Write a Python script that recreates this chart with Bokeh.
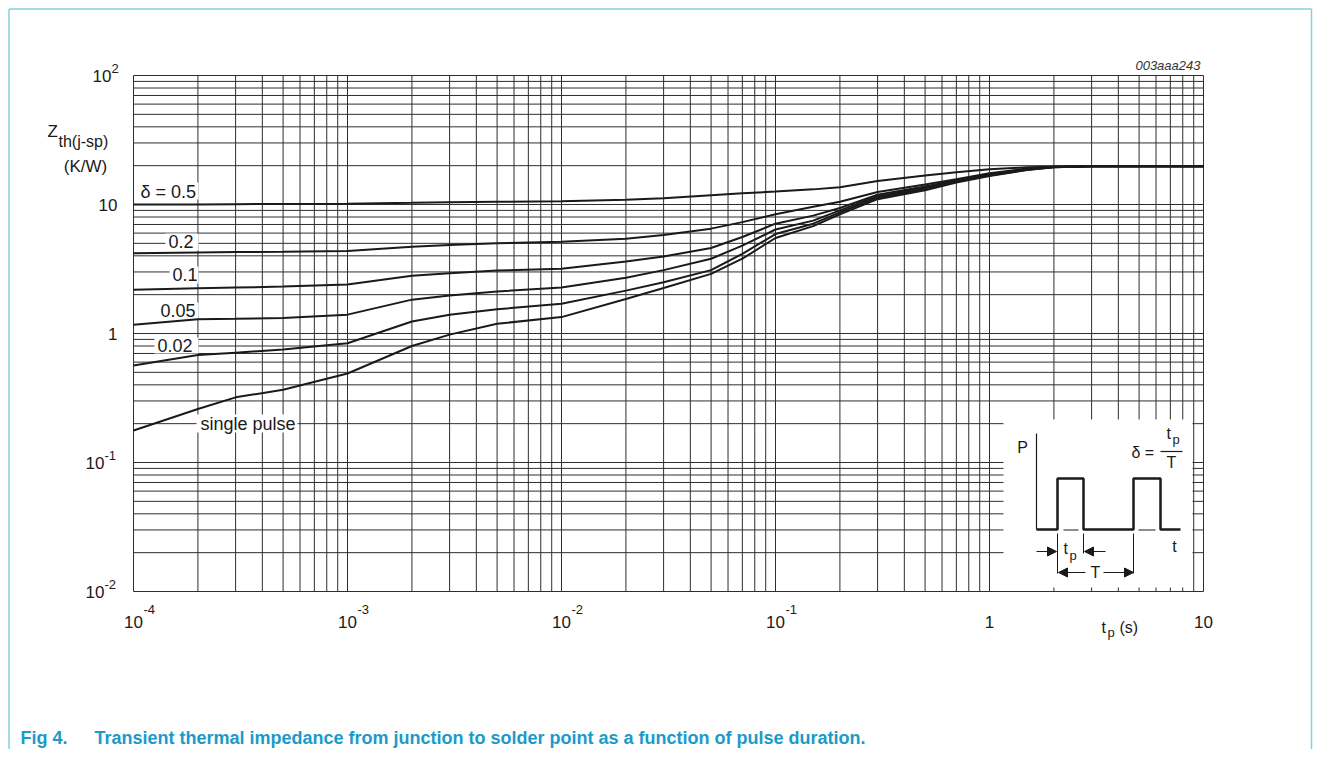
import math
from bokeh.plotting import figure
from bokeh.models import Label, Range1d, Arrow, NormalHead
from bokeh.embed import file_html
from bokeh.resources import INLINE

# ---------------- data ----------------
tp_s = [1e-4, 2e-4, 3e-4, 5e-4, 1e-3, 2e-3, 3e-3, 5e-3, 1e-2, 2e-2, 3e-2, 5e-2,
        0.07, 0.1, 0.15, 0.2, 0.3, 0.5, 0.7, 1.0, 1.5, 2.0, 3.0, 10.0]
zth_d050 = [10.0, 10.0, 10.05, 10.1, 10.15, 10.3, 10.4, 10.5, 10.6, 10.9, 11.2, 11.8,
            12.2, 12.6, 13.1, 13.6, 15.2, 16.8, 17.8, 18.8, 19.4, 19.6, 19.8, 19.8]
zth_d020 = [4.19, 4.25, 4.28, 4.31, 4.36, 4.70, 4.85, 5.0, 5.15, 5.42, 5.8, 6.5,
            7.3, 8.4, 9.6, 10.5, 12.5, 14.3, 15.7, 17.5, 19.0, 19.6, 19.8, 19.8]
zth_d010 = [2.18, 2.24, 2.27, 2.31, 2.40, 2.80, 2.93, 3.08, 3.17, 3.62, 3.95, 4.6,
            5.6, 7.1, 8.2, 9.4, 11.9, 13.8, 15.4, 17.2, 18.8, 19.5, 19.8, 19.8]
zth_d005 = [1.17, 1.29, 1.30, 1.32, 1.40, 1.83, 1.97, 2.12, 2.27, 2.7, 3.1, 3.8,
            4.8, 6.4, 7.5, 9.0, 11.6, 13.5, 15.2, 17.0, 18.7, 19.5, 19.8, 19.8]
zth_d002 = [0.565, 0.68, 0.71, 0.75, 0.84, 1.24, 1.40, 1.54, 1.70, 2.15, 2.5, 3.1,
            4.15, 5.9, 7.1, 8.7, 11.3, 13.2, 15.0, 16.8, 18.6, 19.4, 19.8, 19.8]
zth_single = [0.177, 0.26, 0.32, 0.366, 0.49, 0.80, 0.98, 1.19, 1.34, 1.85, 2.25, 2.9,
              3.8, 5.5, 6.8, 8.4, 11.0, 12.9, 14.8, 16.6, 18.5, 19.4, 19.8, 19.8]
series = [zth_d050, zth_d020, zth_d010, zth_d005, zth_d002, zth_single]
curve_labels = ["\u03b4 = 0.5", "0.2", "0.1", "0.05", "0.02", "single pulse"]

x_major = [1e-4, 1e-3, 1e-2, 1e-1, 1.0, 10.0]
x_tick_base = ["10", "10", "10", "10", "1", "10"]
x_tick_exp = ["-4", "-3", "-2", "-1", "", ""]
y_major = [1e-2, 1e-1, 1.0, 10.0, 100.0]
y_tick_base = ["10", "10", "1", "10", "10"]
y_tick_exp = ["-2", "-1", "", "", "2"]

x_minor = [m * 10.0 ** e for e in range(-4, 1) for m in range(2, 10)]
y_minor = [m * 10.0 ** e for e in range(-2, 2) for m in range(2, 10)]

XR = (1e-4, 10.0)
YR = (1e-2, 1e2)

# ---------------- layout geometry (page pixels of the data frame) ----------------
FX0, FX1 = 133.0, 1203.0
FY0, FY1 = 591.0, 75.0
LX0, LX1 = math.log10(XR[0]), math.log10(XR[1])
LY0, LY1 = math.log10(YR[0]), math.log10(YR[1])


def X(px):
    return 10 ** (LX0 + (px - FX0) / (FX1 - FX0) * (LX1 - LX0))


def Y(py):
    return 10 ** (LY0 + (FY0 - py) / (FY0 - FY1) * (LY1 - LY0))


def PX(v):
    return FX0 + (math.log10(v) - LX0) / (LX1 - LX0) * (FX1 - FX0)


def PY(v):
    return FY0 - (math.log10(v) - LY0) / (LY1 - LY0) * (FY0 - FY1)


W, H = 1313, 749
p = figure(width=W, height=H, x_axis_type="log", y_axis_type="log",
           x_range=Range1d(X(0), X(W)), y_range=Range1d(Y(H), Y(0)),
           x_axis_location=None, y_axis_location=None,
           toolbar_location=None, output_backend="svg", min_border=0)
p.grid.visible = False
p.outline_line_color = None
p.background_fill_color = "white"
p.border_fill_color = "white"

FONT = "Liberation Sans"
INK = "#1a1a1a"
GRID = "#2e2e2e"

# page border (light blue frame)
BORDER = "#86cfe2"
p.line([X(8.5), X(8.5)], [Y(H), Y(8.5)], line_color=BORDER, line_width=1.5)
p.line([X(8.5), X(W - 2)], [Y(8.5), Y(8.5)], line_color=BORDER, line_width=1.5)
p.line([X(W - 2), X(W - 2)], [Y(8.5), Y(H)], line_color=BORDER, line_width=1.5)

# grid (decades + minor 2..9), including the frame edges
vx = x_major + x_minor
p.segment(x0=vx, y0=[YR[0]] * len(vx), x1=vx, y1=[YR[1]] * len(vx),
          line_color=GRID, line_width=1)
hy = y_major + y_minor
p.segment(x0=[XR[0]] * len(hy), y0=hy, x1=[XR[1]] * len(hy), y1=hy,
          line_color=GRID, line_width=1)

# white masks behind the in-plot texts and the inset
masks = [(137, 198, 182, 199), (165, 198, 233, 250), (169, 198, 266, 283),
         (157, 198, 302, 318), (154, 198, 337, 353), (196, 297, 414, 432),
         (1003, 1192, 419, 587)]
p.quad(left=[X(m[0]) for m in masks], right=[X(m[1]) for m in masks],
       top=[Y(m[2]) for m in masks], bottom=[Y(m[3]) for m in masks],
       fill_color="white", line_color=None)

for ys in series:
    p.line(tp_s, ys, line_color=INK, line_width=2)


def lab(px, py, text, size="18px", align="left", baseline="middle",
        style="normal", color=INK, font=FONT):
    p.add_layout(Label(x=X(px), y=Y(py), text=text, text_font_size=size,
                       text_align=align, text_baseline=baseline,
                       text_font_style=style, text_color=color, text_font=font))


# curve labels
label_pos = [(140, 191), (168, 241), (172, 274), (160, 310), (157, 345), (200, 423)]
for (px, py), t in zip(label_pos, curve_labels):
    lab(px, py, t)

# x tick labels
for v, b, e in zip(x_major, x_tick_base, x_tick_exp):
    lab(PX(v), 621, b, size="17px", align="center")
    if e:
        lab(PX(v) + 10, 609, e, size="13px")

# y tick labels
for v, b, e in zip(y_major, y_tick_base, y_tick_exp):
    if e:
        rx = 111 if e == "2" else 104
        lab(rx, PY(v), b, size="17px", align="right")
        lab(rx, PY(v) - 7, e, size="13px")
    else:
        lab(117, PY(v), b, size="17px", align="right")

# axis titles
lab(47, 131, "Z", size="17px")
lab(58, 141, "th(j-sp)", size="16px")
lab(85, 166, "(K/W)", size="17px", align="center")
lab(1101, 627, "t", size="16px", baseline="alphabetic")
lab(1107, 632, "p", size="13px", baseline="alphabetic")
lab(1119, 627, "(s)", size="16px", baseline="alphabetic")

# chart code
lab(1200, 65, "003aaa243", size="13px", align="right", style="italic", color="#333333")

# caption
CAP = "#1b9ac8"
lab(20, 737, "Fig 4.", size="18px", style="bold", color=CAP)
lab(94, 737, "Transient thermal impedance from junction to solder point as a function of pulse duration.",
    size="18px", style="bold", color=CAP)

# ---------------- inset: pulse train sketch ----------------
wave_px = [1036, 1057, 1057, 1083, 1083, 1133, 1133, 1160, 1160, 1180]
wave_py = [529, 529, 478, 478, 529, 529, 478, 478, 529, 529]
p.line([X(v) for v in wave_px], [Y(v) for v in wave_py], line_color=INK, line_width=2.5)
p.line([X(1036), X(1036)], [Y(433), Y(529)], line_color=INK, line_width=1.2)
for a, b in [(1063, 1078), (1138, 1155)]:
    p.line([X(a), X(b)], [Y(529.5), Y(529.5)], line_color=INK, line_width=1)
for xp, y2 in [(1057, 573), (1083, 553), (1133, 573)]:
    p.line([X(xp), X(xp)], [Y(533), Y(y2)], line_color=INK, line_width=1)
p.line([X(1160), X(1182)], [Y(451), Y(451)], line_color=INK, line_width=1.2)

for xs, xe, yy in [(1036, 1056, 551), (1105, 1084, 551), (1085, 1058, 572), (1103, 1133, 572)]:
    p.add_layout(Arrow(end=NormalHead(size=9, fill_color=INK, line_color=INK, line_width=1),
                       x_start=X(xs), y_start=Y(yy), x_end=X(xe), y_end=Y(yy),
                       line_color=INK, line_width=1))

lab(1022, 447, "P", size="16px", align="center")
lab(1063, 548, "t", size="16px")
lab(1069, 555, "p", size="13px")
lab(1095, 572, "T", size="16px", align="center")
lab(1174, 546, "t", size="16px", align="center")
lab(1131, 452, "\u03b4 =", size="16px")
lab(1166, 433, "t", size="16px")
lab(1172, 439, "p", size="13px")
lab(1171, 462, "T", size="16px", align="center")

open("out.html", "w").write(file_html(p, INLINE))
